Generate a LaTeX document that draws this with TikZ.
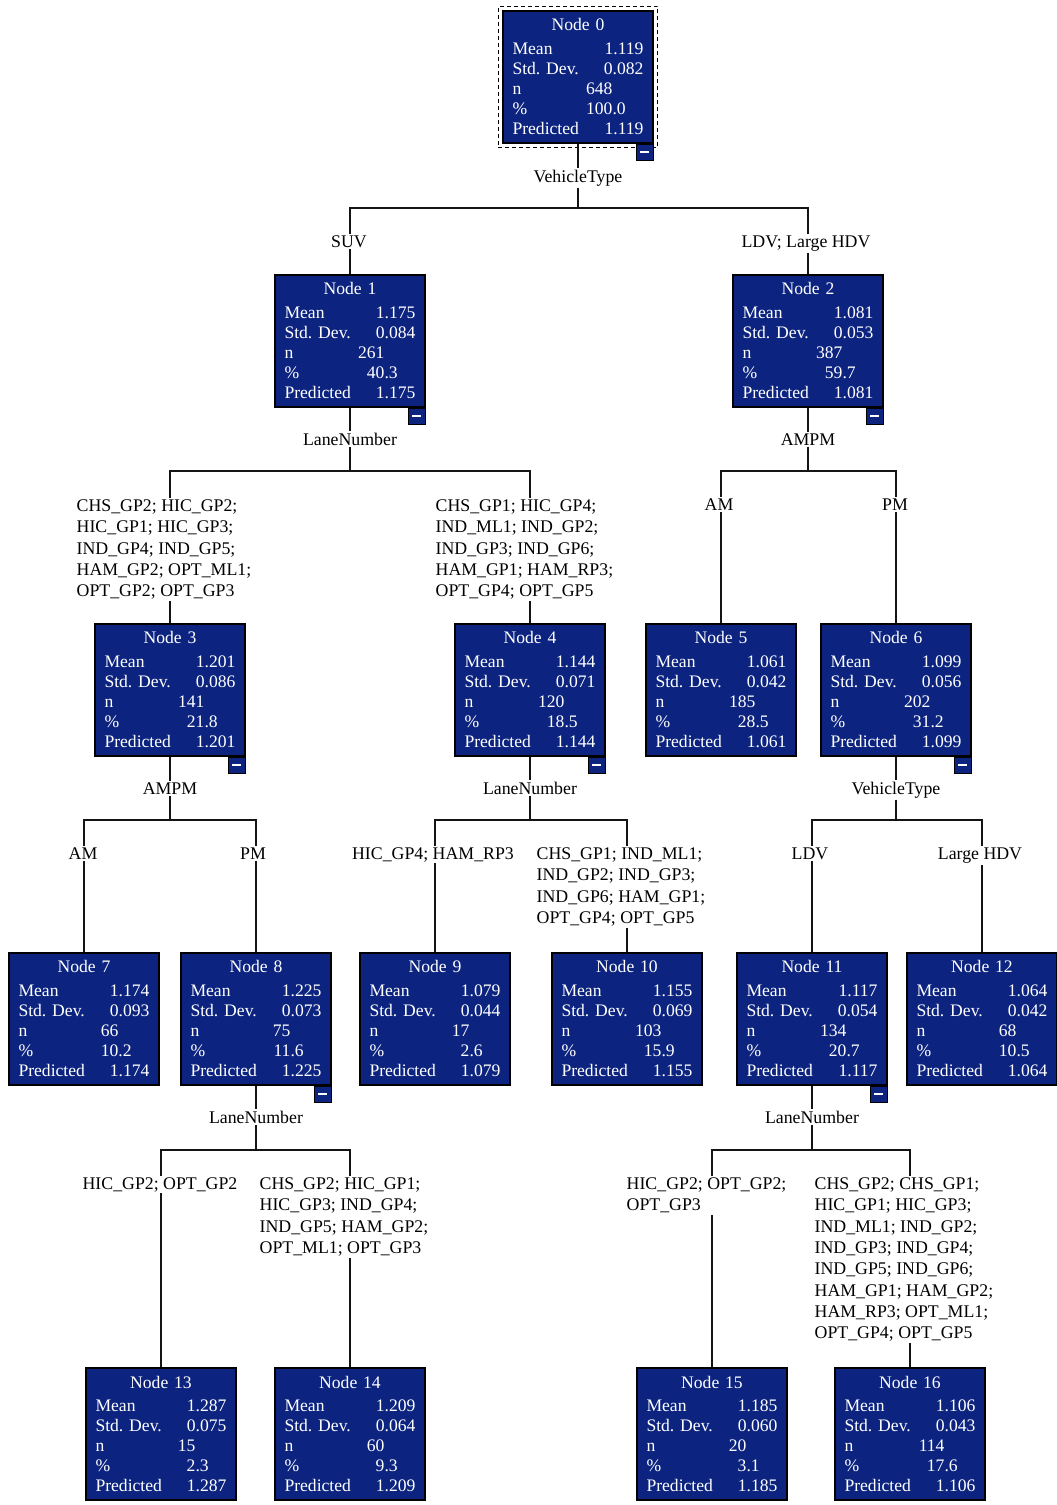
\documentclass[tikz,border=0pt]{standalone}
\usepackage{fontspec}
\setmainfont{Liberation Serif}
\usepackage{xcolor}
\usetikzlibrary{positioning,fit}
\definecolor{NodeNavy}{RGB}{12,36,128}
\definecolor{EdgeBlack}{RGB}{20,20,20}

% contents of one tree node: number, mean, std. dev., n, % (int, frac), predicted
\newcommand{\statlines}[7]{%
  {\centering Node #1\par}\vspace{3pt}%
  Mean\hfill #2\par
  Std.\ Dev.\hfill #3\par
  \makebox[100pt]{n\hfill #4}\par
  \makebox[100pt]{\%\hfill #5}.#6\par
  Predicted\hfill #7}

\tikzset{
  treebox/.style={rectangle, draw=black, line width=1.5pt, fill=NodeNavy, text=white,
    minimum width=150pt, minimum height=132pt, text width=131pt, inner xsep=9.5pt,
    inner ysep=0pt, align=left, font=\fontsize{17.6}{20.2}\selectfont},
  minusbox/.style={rectangle, draw=black, line width=1.2pt, fill=NodeNavy, text=white,
    minimum width=17pt, minimum height=16pt, inner sep=0pt, anchor=north east},
  selbox/.style={draw=black, dash pattern=on 4pt off 3pt, line width=1.3pt, inner sep=4pt},
  splitlabel/.style={inner sep=1.5pt, anchor=base, font=\fontsize{17.8}{20}\selectfont},
  catlabel/.style={inner sep=1.5pt, align=left, font=\fontsize{17.8}{21.3}\selectfont},
  treeline/.style={draw=EdgeBlack, line width=1.2pt}
}
\newcommand{\minussign}{\rule[-0.9pt]{9pt}{1.8pt}}

\begin{document}
\begin{tikzpicture}[x=1pt, y=-1pt]
\fill[white] (0,0) rectangle (1057,1505);
\useasboundingbox (0,0) rectangle (1057,1505);

% tree nodes
\node[treebox] (n0) at (578,77) {\statlines{0}{1.119}{0.082}{648}{100}{0}{1.119}};
\node[treebox] (n1) at (350,341) {\statlines{1}{1.175}{0.084}{261}{40}{3}{1.175}};
\node[treebox] (n2) at (808,341) {\statlines{2}{1.081}{0.053}{387}{59}{7}{1.081}};
\node[treebox] (n3) at (170,690) {\statlines{3}{1.201}{0.086}{141}{21}{8}{1.201}};
\node[treebox] (n4) at (530,690) {\statlines{4}{1.144}{0.071}{120}{18}{5}{1.144}};
\node[treebox] (n5) at (721,690) {\statlines{5}{1.061}{0.042}{185}{28}{5}{1.061}};
\node[treebox] (n6) at (896,690) {\statlines{6}{1.099}{0.056}{202}{31}{2}{1.099}};
\node[treebox] (n7) at (84,1019) {\statlines{7}{1.174}{0.093}{66}{10}{2}{1.174}};
\node[treebox] (n8) at (256,1019) {\statlines{8}{1.225}{0.073}{75}{11}{6}{1.225}};
\node[treebox] (n9) at (435,1019) {\statlines{9}{1.079}{0.044}{17}{2}{6}{1.079}};
\node[treebox] (n10) at (627,1019) {\statlines{10}{1.155}{0.069}{103}{15}{9}{1.155}};
\node[treebox] (n11) at (812,1019) {\statlines{11}{1.117}{0.054}{134}{20}{7}{1.117}};
\node[treebox] (n12) at (982,1019) {\statlines{12}{1.064}{0.042}{68}{10}{5}{1.064}};
\node[treebox] (n13) at (161,1434) {\statlines{13}{1.287}{0.075}{15}{2}{3}{1.287}};
\node[treebox] (n14) at (350,1434) {\statlines{14}{1.209}{0.064}{60}{9}{3}{1.209}};
\node[treebox] (n15) at (712,1434) {\statlines{15}{1.185}{0.060}{20}{3}{1}{1.185}};
\node[treebox] (n16) at (910,1434) {\statlines{16}{1.106}{0.043}{114}{17}{6}{1.106}};

% selected root
\node[selbox, fit=(n0)] (sel0) {};

% collapse buttons
\node[minusbox] (m0) at (n0.south east) {\minussign};
\node[minusbox] (m1) at (n1.south east) {\minussign};
\node[minusbox] (m2) at (n2.south east) {\minussign};
\node[minusbox] (m3) at (n3.south east) {\minussign};
\node[minusbox] (m4) at (n4.south east) {\minussign};
\node[minusbox] (m6) at (n6.south east) {\minussign};
\node[minusbox] (m8) at (n8.south east) {\minussign};
\node[minusbox] (m11) at (n11.south east) {\minussign};

% split variables
\node[splitlabel] (s0) at (578,182) {VehicleType};
\node[splitlabel] (s1) at (350,445) {LaneNumber};
\node[splitlabel] (s2) at (808,445) {AMPM};
\node[splitlabel] (s3) at (170,794) {AMPM};
\node[splitlabel] (s4) at (530,794) {LaneNumber};
\node[splitlabel] (s6) at (896,794) {VehicleType};
\node[splitlabel] (s8) at (256,1123) {LaneNumber};
\node[splitlabel] (s11) at (812,1123) {LaneNumber};

\coordinate (b0) at (578,208);
\coordinate (b1) at (350,471);
\coordinate (b2) at (808,471);
\coordinate (b3) at (170,820);
\coordinate (b4) at (530,820);
\coordinate (b6) at (896,820);
\coordinate (b8) at (256,1150);
\coordinate (b11) at (812,1150);

% category labels
\node[catlabel, anchor=base] (c1) at (349,247) {SUV};
\node[catlabel, anchor=base] (c2) at (806,247) {LDV; Large HDV};
\node[catlabel, anchor=north west] (c3) at (75,498) {CHS\_GP2; HIC\_GP2;\\HIC\_GP1; HIC\_GP3;\\IND\_GP4; IND\_GP5;\\HAM\_GP2; OPT\_ML1;\\OPT\_GP2; OPT\_GP3};
\node[catlabel, anchor=north west] (c4) at (434,498) {CHS\_GP1; HIC\_GP4;\\IND\_ML1; IND\_GP2;\\IND\_GP3; IND\_GP6;\\HAM\_GP1; HAM\_RP3;\\OPT\_GP4; OPT\_GP5};
\node[catlabel, anchor=base] (c5) at (719,510) {AM};
\node[catlabel, anchor=base] (c6) at (895,510) {PM};
\node[catlabel, anchor=base] (c7) at (83,859) {AM};
\node[catlabel, anchor=base] (c8) at (253,859) {PM};
\node[catlabel, anchor=base] (c9) at (433,859) {HIC\_GP4; HAM\_RP3};
\node[catlabel, anchor=north west] (c10) at (535,846) {CHS\_GP1; IND\_ML1;\\IND\_GP2; IND\_GP3;\\IND\_GP6; HAM\_GP1;\\OPT\_GP4; OPT\_GP5};
\node[catlabel, anchor=base] (c11) at (810,859) {LDV};
\node[catlabel, anchor=base] (c12) at (980,859) {Large HDV};
\node[catlabel, anchor=base] (c13) at (160,1189) {HIC\_GP2; OPT\_GP2};
\node[catlabel, anchor=north west] (c14) at (258,1176) {CHS\_GP2; HIC\_GP1;\\HIC\_GP3; IND\_GP4;\\IND\_GP5; HAM\_GP2;\\OPT\_ML1; OPT\_GP3};
\node[catlabel, anchor=north west] (c15) at (625,1176) {HIC\_GP2; OPT\_GP2;\\OPT\_GP3};
\node[catlabel, anchor=north west] (c16) at (813,1176) {CHS\_GP2; CHS\_GP1;\\HIC\_GP1; HIC\_GP3;\\IND\_ML1; IND\_GP2;\\IND\_GP3; IND\_GP4;\\IND\_GP5; IND\_GP6;\\HAM\_GP1; HAM\_GP2;\\HAM\_RP3; OPT\_ML1;\\OPT\_GP4; OPT\_GP5};

% parent to split variable to bar
\draw[treeline] (n0.south) -- (s0.north);  \draw[treeline] (s0.south) -- (b0);
\draw[treeline] (n1.south) -- (s1.north);  \draw[treeline] (s1.south) -- (b1);
\draw[treeline] (n2.south) -- (s2.north);  \draw[treeline] (s2.south) -- (b2);
\draw[treeline] (n3.south) -- (s3.north);  \draw[treeline] (s3.south) -- (b3);
\draw[treeline] (n4.south) -- (s4.north);  \draw[treeline] (s4.south) -- (b4);
\draw[treeline] (n6.south) -- (s6.north);  \draw[treeline] (s6.south) -- (b6);
\draw[treeline] (n8.south) -- (s8.north);  \draw[treeline] (s8.south) -- (b8);
\draw[treeline] (n11.south) -- (s11.north); \draw[treeline] (s11.south) -- (b11);

% bar to category label to child
\draw[treeline] (n1.north |- c1.north) |- (b0);  \draw[treeline] (n1.north) -- (n1.north |- c1.south);
\draw[treeline] (n2.north |- c2.north) |- (b0);  \draw[treeline] (n2.north) -- (n2.north |- c2.south);
\draw[treeline] (n3.north |- c3.north) |- (b1);  \draw[treeline] (n3.north) -- (n3.north |- c3.south);
\draw[treeline] (n4.north |- c4.north) |- (b1);  \draw[treeline] (n4.north) -- (n4.north |- c4.south);
\draw[treeline] (n5.north |- c5.north) |- (b2);  \draw[treeline] (n5.north) -- (n5.north |- c5.south);
\draw[treeline] (n6.north |- c6.north) |- (b2);  \draw[treeline] (n6.north) -- (n6.north |- c6.south);
\draw[treeline] (n7.north |- c7.north) |- (b3);  \draw[treeline] (n7.north) -- (n7.north |- c7.south);
\draw[treeline] (n8.north |- c8.north) |- (b3);  \draw[treeline] (n8.north) -- (n8.north |- c8.south);
\draw[treeline] (n9.north |- c9.north) |- (b4);  \draw[treeline] (n9.north) -- (n9.north |- c9.south);
\draw[treeline] (n10.north |- c10.north) |- (b4); \draw[treeline] (n10.north) -- (n10.north |- c10.south);
\draw[treeline] (n11.north |- c11.north) |- (b6); \draw[treeline] (n11.north) -- (n11.north |- c11.south);
\draw[treeline] (n12.north |- c12.north) |- (b6); \draw[treeline] (n12.north) -- (n12.north |- c12.south);
\draw[treeline] (n13.north |- c13.north) |- (b8); \draw[treeline] (n13.north) -- (n13.north |- c13.south);
\draw[treeline] (n14.north |- c14.north) |- (b8); \draw[treeline] (n14.north) -- (n14.north |- c14.south);
\draw[treeline] (n15.north |- c15.north) |- (b11); \draw[treeline] (n15.north) -- (n15.north |- c15.south);
\draw[treeline] (n16.north |- c16.north) |- (b11); \draw[treeline] (n16.north) -- (n16.north |- c16.south);
\end{tikzpicture}
\end{document}
